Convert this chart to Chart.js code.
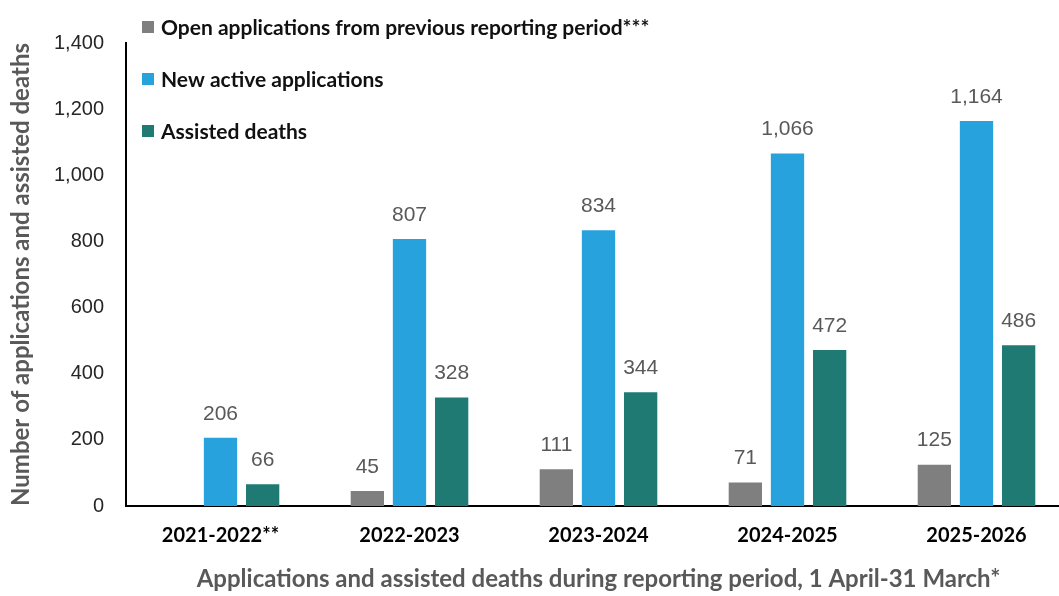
<!DOCTYPE html>
<html>
<head>
<meta charset="utf-8">
<script src="https://cdn.jsdelivr.net/npm/chart.js@4.4.1/dist/chart.umd.min.js"></script>
<style>
  html, body { margin: 0; padding: 0; background: #ffffff; overflow: hidden; }
  /* the plot runs a little past the right edge of the visible frame */
  #wrap { width: 1059px; height: 596px; position: relative; overflow: hidden; }
  #chart { display: block; }
</style>
</head>
<body>
<div id="wrap"><canvas id="chart" width="1071" height="596"></canvas></div>
<script>
// Reporting periods and counts
const periods = ['2021-2022**', '2022-2023', '2023-2024', '2024-2025', '2025-2026'];
const openApplications = [null, 45, 111, 71, 125];
const newActiveApplications = [206, 807, 834, 1066, 1164];
const assistedDeaths = [66, 328, 344, 472, 486];
const yTicks = [0, 200, 400, 600, 800, 1000, 1200, 1400];

const seriesNames = [
  'Open applications from previous reporting period***',
  'New active applications',
  'Assisted deaths'
];
const seriesColors = ['#7f7f7f', '#27a2dc', '#1e7a73'];

const boldFamily = 'Lato, "Open Sans", sans-serif';
const plainFamily = '"Liberation Sans", Arial, sans-serif';

// Value labels above every bar
const valueLabels = {
  id: 'valueLabels',
  afterDatasetsDraw(chart) {
    const ctx = chart.ctx;
    ctx.save();
    ctx.font = '21px ' + plainFamily;
    ctx.fillStyle = '#595959';
    ctx.textAlign = 'center';
    ctx.textBaseline = 'middle';
    chart.data.datasets.forEach((ds, i) => {
      const meta = chart.getDatasetMeta(i);
      meta.data.forEach((bar, j) => {
        const v = ds.data[j];
        if (v === null || v === undefined) return;
        ctx.fillText(v.toLocaleString('en-US'), bar.x, bar.y - 24);
      });
    });
    ctx.restore();
  }
};

// Stacked legend in the upper-left corner of the plot
const cornerLegend = {
  id: 'cornerLegend',
  afterDraw(chart) {
    const ctx = chart.ctx;
    ctx.save();
    ctx.font = 'bold 21px ' + boldFamily;
    ctx.textAlign = 'left';
    ctx.textBaseline = 'middle';
    chart.data.datasets.forEach((ds, i) => {
      const cy = 27 + i * 52;
      ctx.fillStyle = ds.backgroundColor;
      ctx.fillRect(142, cy - 6, 12, 12);
      ctx.fillStyle = '#111111';
      ctx.fillText(ds.label, 161, cy + 1);
    });
    ctx.restore();
  }
};

new Chart(document.getElementById('chart'), {
  type: 'bar',
  data: {
    labels: periods,
    datasets: [
      { label: seriesNames[0], data: openApplications, backgroundColor: seriesColors[0] },
      { label: seriesNames[1], data: newActiveApplications, backgroundColor: seriesColors[1] },
      { label: seriesNames[2], data: assistedDeaths, backgroundColor: seriesColors[2] }
    ]
  },
  options: {
    responsive: false,
    animation: false,
    devicePixelRatio: 1,
    layout: { padding: { top: 43, right: 0, left: 0, bottom: 0 } },
    datasets: {
      bar: { categoryPercentage: 0.669, barPercentage: 0.79, skipNull: false }
    },
    plugins: {
      legend: { display: false },
      tooltip: { enabled: false }
    },
    scales: {
      x: {
        grid: { display: false },
        border: { display: true, color: '#000000', width: 2 },
        ticks: {
          color: '#000000',
          font: { family: boldFamily, size: 20, weight: 'bold' },
          padding: 10
        },
        title: {
          display: true,
          text: 'Applications and assisted deaths during reporting period, 1 April-31 March*',
          color: '#595959',
          font: { family: boldFamily, size: 24, weight: 'bold' },
          padding: { top: 0, bottom: 2 }
        },
        afterFit(scale) { scale.height = 90; }
      },
      y: {
        min: 0,
        max: 1400,
        afterBuildTicks(scale) { scale.ticks = yTicks.map(v => ({ value: v })); },
        grid: { display: false },
        border: { display: true, color: '#000000', width: 2 },
        ticks: {
          color: '#262626',
          font: { family: plainFamily, size: 20 },
          padding: 14,
          callback: (v) => Number(v).toLocaleString('en-US')
        },
        title: {
          display: true,
          text: 'Number of applications and assisted deaths',
          color: '#595959',
          font: { family: boldFamily, size: 24, weight: 'bold' },
          padding: { top: 7, bottom: 0 }
        },
        afterFit(scale) { scale.width = 126; }
      }
    }
  },
  plugins: [valueLabels, cornerLegend]
});
</script>
</body>
</html>
